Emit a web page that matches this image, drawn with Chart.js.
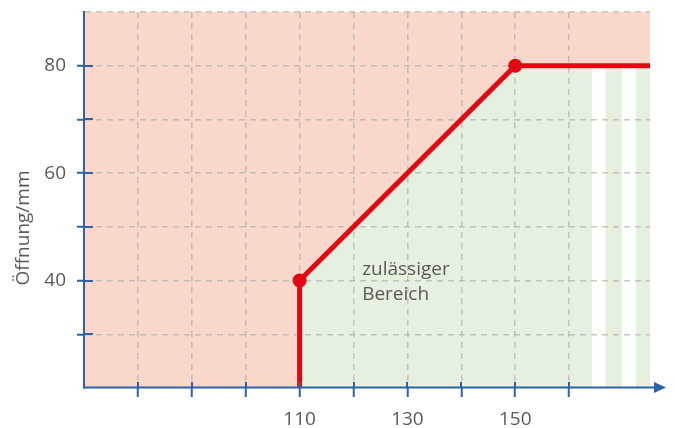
<!DOCTYPE html>
<html><head><meta charset="utf-8">
<script src="https://cdn.jsdelivr.net/npm/chart.js@4/dist/chart.umd.min.js"></script>
<style>html,body{margin:0;padding:0;background:#fff}#wrap{width:675px;height:428px}</style>
</head><body><div id="wrap"><canvas id="c" width="675" height="428"></canvas></div>
<script>
// ---- data ----
const xRange = [70, 175];
const yRange = [20, 90];
const xGridTicks = [80, 90, 100, 110, 120, 130, 140, 150, 160];
const xTickLabels = [110, 130, 150];
const yGridTicks = [30, 40, 50, 60, 70, 80, 90];
const yTickLabels = [40, 60, 80];
const limitX = [110, 110, 150, 175];
const limitY = [20, 40, 80, 80];
const markerX = [110, 150];
const markerY = [40, 80];
const allowedX = [110, 150, 175];
const allowedY = [40, 80, 80];
const gapStarts = [164.2, 169.75];
const gapEnds = [166.8, 172.4];
const yTitle = 'Öffnung/mm';
const areaLabel = ['zulässiger', 'Bereich'];

// ---- style ----
const RED = '#e30613';
const BLUE = '#2b63aa';
const PINK = '#f9d8cb';
const GREEN = '#e6f0df';
const TXT = '#58595b';
const GRID = 'rgba(175,175,175,0.7)';
const FONT = '"Open Sans", "Noto Sans", sans-serif';

const pts = (xs, ys) => xs.map((x, i) => ({x, y: ys[i]}));
const fillSet = (data, color) => ({
  data, fill: 'start', backgroundColor: color, borderColor: 'rgba(0,0,0,0)',
  borderWidth: 0, pointRadius: 0, pointHoverRadius: 0, tension: 0
});

const datasets = [
  {data: pts(markerX, markerY), showLine: false, pointRadius: 7, pointHoverRadius: 7,
   pointBackgroundColor: RED, pointBorderWidth: 0, fill: false},
  {data: pts(limitX, limitY), borderColor: RED, borderWidth: 5, pointRadius: 0,
   pointHoverRadius: 0, fill: false, tension: 0, borderCapStyle: 'butt'},
];
gapStarts.forEach((s, i) => {
  datasets.push(fillSet([{x: s, y: allowedY[allowedY.length - 1]}, {x: gapEnds[i], y: allowedY[allowedY.length - 1]}], '#ffffff'));
});
datasets.push(fillSet(pts(allowedX, allowedY), GREEN));
datasets.push(fillSet([{x: xRange[0], y: yRange[1]}, {x: xRange[1], y: yRange[1]}], PINK));

const decor = {
  id: 'decor',
  afterDraw(chart) {
    const {ctx, chartArea: a, scales: {x, y}} = chart;
    ctx.save();
    ctx.strokeStyle = BLUE;
    ctx.fillStyle = BLUE;
    ctx.lineWidth = 2;
    // inner parts of tick marks
    xGridTicks.forEach(v => {
      const px = Math.round(x.getPixelForValue(v));
      ctx.beginPath(); ctx.moveTo(px, a.bottom - 6); ctx.lineTo(px, a.bottom); ctx.stroke();
    });
    yGridTicks.filter(v => v < yRange[1]).forEach(v => {
      const py = Math.round(y.getPixelForValue(v));
      ctx.beginPath(); ctx.moveTo(a.left, py); ctx.lineTo(a.left + 9, py); ctx.stroke();
    });
    // x axis with arrow
    const yb = a.bottom - 0.5;
    ctx.beginPath(); ctx.moveTo(a.left - 1, yb); ctx.lineTo(a.right + 7, yb); ctx.stroke();
    ctx.beginPath();
    ctx.moveTo(a.right + 4, yb - 5.5); ctx.lineTo(a.right + 16, yb); ctx.lineTo(a.right + 4, yb + 5.5);
    ctx.closePath(); ctx.fill();
    // y title
    ctx.fillStyle = TXT;
    ctx.font = '19px ' + FONT;
    ctx.textAlign = 'center';
    ctx.textBaseline = 'middle';
    ctx.save();
    ctx.translate(24, 228);
    ctx.rotate(-Math.PI / 2);
    ctx.fillText(yTitle, 0, 0);
    ctx.restore();
    // area label
    ctx.textAlign = 'left';
    ctx.textBaseline = 'alphabetic';
    const lx = x.getPixelForValue(121.6);
    ctx.fillText(areaLabel[0], lx, y.getPixelForValue(41.0));
    ctx.fillText(areaLabel[1], lx, y.getPixelForValue(36.4));
    ctx.restore();
  }
};

new Chart(document.getElementById('c'), {
  type: 'line',
  data: {datasets},
  plugins: [decor],
  options: {
    responsive: false,
    animation: false,
    events: [],
    layout: {padding: {top: 0, right: 25, left: 0, bottom: 0}},
    plugins: {
      legend: {display: false},
      tooltip: {enabled: false},
      filler: {drawTime: 'beforeDraw'}
    },
    scales: {
      x: {
        type: 'linear', min: xRange[0], max: xRange[1],
        afterBuildTicks: s => { s.ticks = xGridTicks.map(v => ({value: v})); },
        afterFit: s => { s.height = 40; },
        ticks: {
          autoSkip: false, maxRotation: 0, padding: 11,
          color: TXT, font: {family: FONT, size: 19},
          callback: v => xTickLabels.includes(v) ? String(v) : ''
        },
        grid: {color: GRID, lineWidth: 1.5, tickColor: BLUE, tickWidth: 2, tickLength: 9, tickBorderDash: []},
        border: {display: false, dash: [6, 5]}
      },
      y: {
        type: 'linear', min: yRange[0], max: yRange[1],
        afterBuildTicks: s => { s.ticks = yGridTicks.map(v => ({value: v})); },
        afterFit: s => { s.width = 84; s.paddingTop = 12; },
        ticks: {
          autoSkip: false, padding: 11,
          color: TXT, font: {family: FONT, size: 19},
          callback: v => yTickLabels.includes(v) ? String(v) : ''
        },
        grid: {
          color: GRID, lineWidth: 1.5, tickWidth: 2, tickLength: 7, tickBorderDash: [],
          tickColor: c => (c.tick && c.tick.value >= yRange[1]) ? 'rgba(0,0,0,0)' : BLUE
        },
        border: {display: true, color: BLUE, width: 2, dash: [6, 5]}
      }
    }
  }
});
</script>
</body></html>
